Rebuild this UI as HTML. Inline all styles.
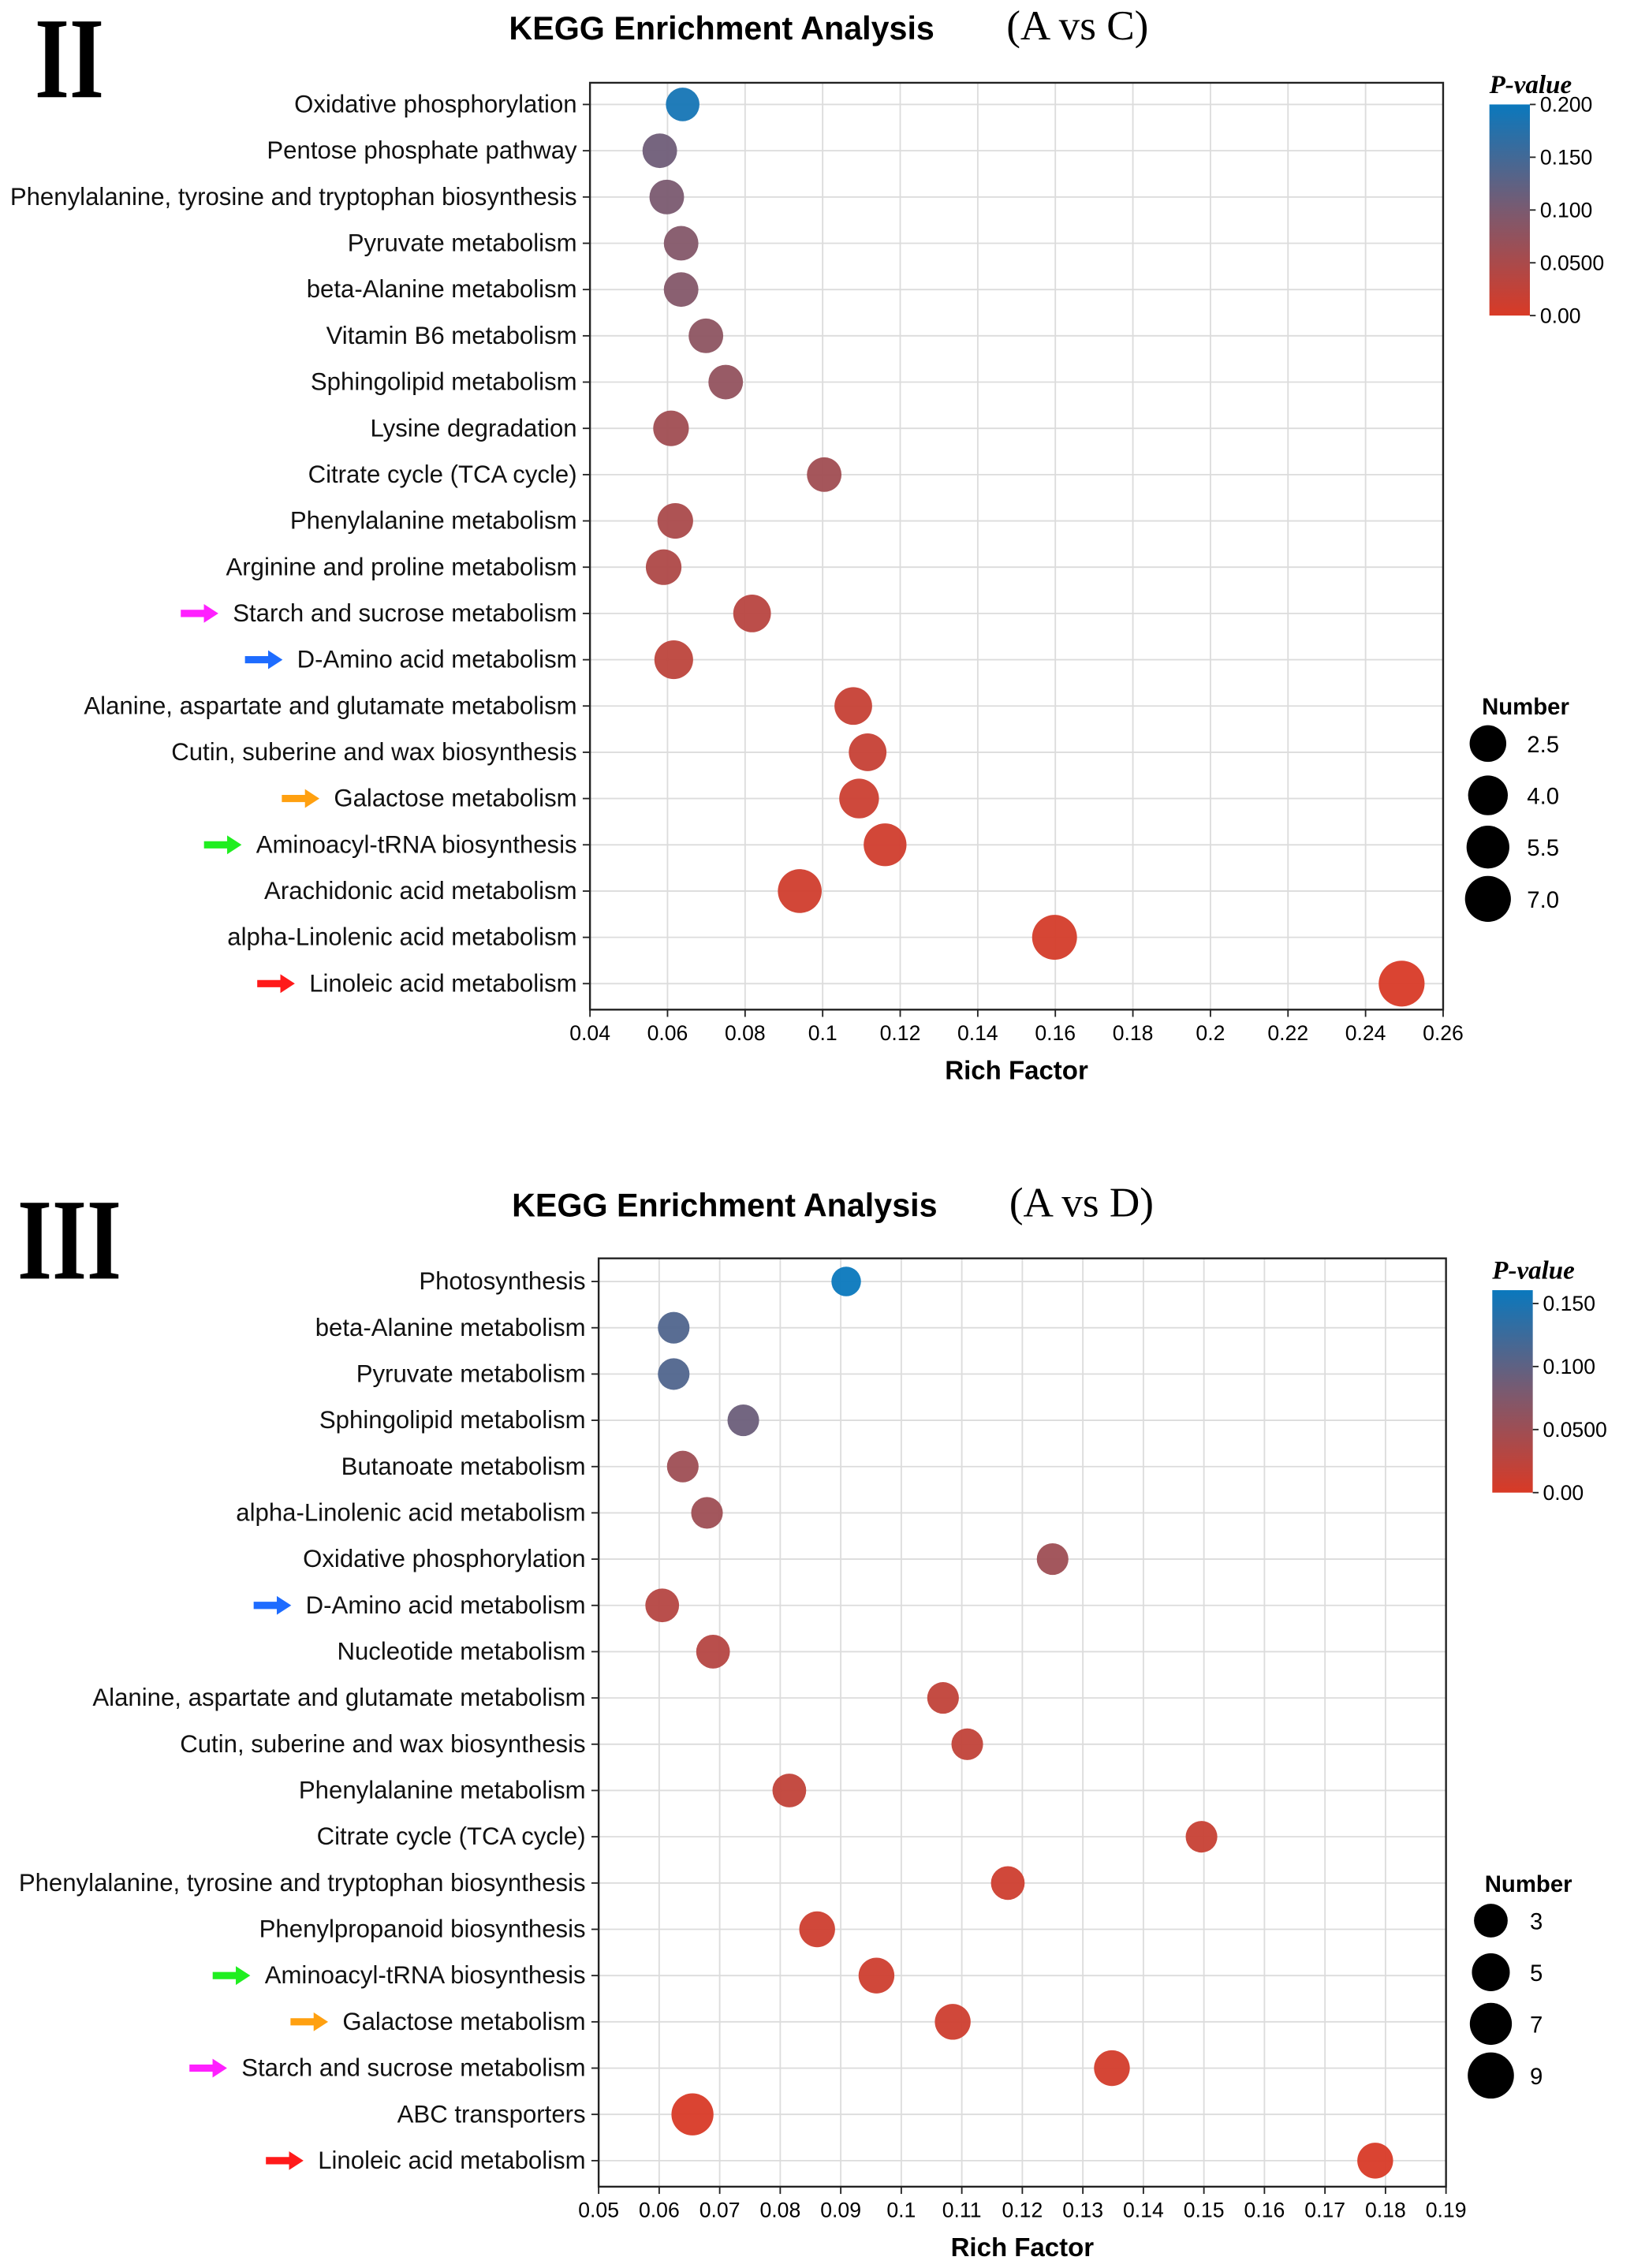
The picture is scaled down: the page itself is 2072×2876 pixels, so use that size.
<!DOCTYPE html>
<html><head><meta charset="utf-8"><style>
html,body{margin:0;padding:0;background:#fff;}
svg{display:block;}
</style></head><body>
<svg id="root" width="2072" height="2876" viewBox="0 0 1130 1568" xmlns="http://www.w3.org/2000/svg" style="font-family:'Liberation Sans',sans-serif">
<defs>
<linearGradient id="g1" x1="0" y1="1" x2="0" y2="0"><stop offset="0" stop-color="#d93a26"/><stop offset="0.5" stop-color="#7a5a70"/><stop offset="1" stop-color="#0a78bd"/></linearGradient>
</defs>
</svg>
<script>
// ---- Chart II data ----
const catsA = ["Oxidative phosphorylation","Pentose phosphate pathway","Phenylalanine, tyrosine and tryptophan biosynthesis","Pyruvate metabolism","beta-Alanine metabolism","Vitamin B6 metabolism","Sphingolipid metabolism","Lysine degradation","Citrate cycle (TCA cycle)","Phenylalanine metabolism","Arginine and proline metabolism","Starch and sucrose metabolism","D-Amino acid metabolism","Alanine, aspartate and glutamate metabolism","Cutin, suberine and wax biosynthesis","Galactose metabolism","Aminoacyl-tRNA biosynthesis","Arachidonic acid metabolism","alpha-Linolenic acid metabolism","Linoleic acid metabolism"];
const richA = [0.0639,0.058,0.0598,0.0635,0.0635,0.0699,0.075,0.0609,0.1004,0.062,0.059,0.0818,0.0616,0.1079,0.1116,0.1094,0.1161,0.0941,0.1598,0.2493];
const numA = [1,1.5,1.5,1.5,1.5,1.5,1.5,2,1.5,2,2,3,3.5,3,3,4,5.5,6,6.5,7];
const pA = [0.19,0.11,0.10,0.09,0.09,0.08,0.075,0.06,0.06,0.05,0.045,0.035,0.03,0.02,0.02,0.015,0.01,0.01,0.005,0.001];
const ticksA = [0.04,0.06,0.08,0.1,0.12,0.14,0.16,0.18,0.2,0.22,0.24,0.26];
const pTicksA = ["0.200","0.150","0.100","0.0500","0.00"];
const sizeLegA = [2.5,4.0,5.5,7.0];
// ---- Chart III data ----
const catsB = ["Photosynthesis","beta-Alanine metabolism","Pyruvate metabolism","Sphingolipid metabolism","Butanoate metabolism","alpha-Linolenic acid metabolism","Oxidative phosphorylation","D-Amino acid metabolism","Nucleotide metabolism","Alanine, aspartate and glutamate metabolism","Cutin, suberine and wax biosynthesis","Phenylalanine metabolism","Citrate cycle (TCA cycle)","Phenylalanine, tyrosine and tryptophan biosynthesis","Phenylpropanoid biosynthesis","Aminoacyl-tRNA biosynthesis","Galactose metabolism","Starch and sucrose metabolism","ABC transporters","Linoleic acid metabolism"];
const richB = [0.0909,0.0624,0.0624,0.0739,0.0639,0.0679,0.125,0.0605,0.0689,0.1069,0.1109,0.0815,0.1496,0.1176,0.0861,0.0959,0.1085,0.1348,0.0655,0.1783];
const numB = [1,2,2,2,2,2,2,3,3,2,2,3,2,3,4,4,4,4,7,4];
const pB = [0.16,0.11,0.11,0.09,0.05,0.05,0.05,0.03,0.03,0.02,0.02,0.02,0.015,0.01,0.01,0.01,0.01,0.005,0.001,0.001];
const ticksB = [0.05,0.06,0.07,0.08,0.09,0.1,0.11,0.12,0.13,0.14,0.15,0.16,0.17,0.18,0.19];
const pTicksB = ["0.150","0.100","0.0500","0.00"];
const sizeLegB = [3,5,7,9];

const NS="http://www.w3.org/2000/svg";
const root=document.getElementById('root');
const SERIF="font-family:'Liberation Serif',serif";
function mk(tag,attrs,parent,txt){const e=document.createElementNS(NS,tag);for(const k in attrs)e.setAttribute(k,attrs[k]);if(txt!==undefined)e.textContent=txt;(parent||root).appendChild(e);return e;}
function lerp(a,b,t){return a.map((v,i)=>Math.round(v+(b[i]-v)*t));}
function pcolor(p,max){const t=Math.max(0,Math.min(1,p/max));const r=[217,58,38],m=[122,90,112],b=[10,120,189];const c=t<0.5?lerp(r,m,t*2):lerp(m,b,(t-0.5)*2);return `rgb(${c[0]},${c[1]},${c[2]})`;}
const arrowCols={"Starch and sucrose metabolism":"#ff20ff","D-Amino acid metabolism":"#1e6cff","Galactose metabolism":"#ffa010","Aminoacyl-tRNA biosynthesis":"#20ee20","Linoleic acid metabolism":"#ff1a1a"};

function chart(o){
  const g=mk('g',{});
  
  
  const x0=o.px0,x1=o.px1,y0=o.py0,y1=o.py1;
  const xs=v=>x0+(v-o.ticks[0])/(o.ticks[o.ticks.length-1]-o.ticks[0])*(x1-x0);
  const ys=i=>o.rowY0+i*32;
  const n=mk('text',{x:o.numX,y:o.numY,'font-size':80,'font-weight':'bold',style:SERIF,textLength:o.numW,lengthAdjust:'spacingAndGlyphs'},g,o.numeral);
  
  const t=mk('text',{x:o.titleX,y:o.titleY,'font-size':22.5,'font-weight':'bold'},g,'KEGG Enrichment Analysis');
  
  const t2=mk('text',{x:o.titleX+344,y:o.titleY,'font-size':29,style:SERIF},g,o.sub);
  
  o.ticks.forEach(v=>{const l=mk('line',{x1:xs(v),x2:xs(v),y1:y0,y2:y1,stroke:'#dcdcdc','stroke-width':1},g);});
  o.cats.forEach((c,i)=>{const l=mk('line',{x1:x0,x2:x1,y1:ys(i),y2:ys(i),stroke:'#dcdcdc','stroke-width':1},g);});
  const fr=mk('rect',{x:x0,y:y0,width:x1-x0,height:y1-y0,fill:'none',stroke:'#222','stroke-width':1.3},g);
  
  o.ticks.forEach(v=>{mk('line',{x1:xs(v),x2:xs(v),y1:y1,y2:y1+5,stroke:'#222'},g);
    const tl=mk('text',{x:xs(v),y:y1+21,'font-size':14.5,'text-anchor':'middle'},g,String(v));
    });
  const xt=mk('text',{x:(x0+x1)/2,y:y1+48,'font-size':18,'font-weight':'bold','text-anchor':'middle'},g,'Rich Factor');
  
  o.cats.forEach((c,i)=>{
    mk('line',{x1:x0-5,x2:x0,y1:ys(i),y2:ys(i),stroke:'#222'},g);
    const tl=mk('text',{x:x0-9,y:ys(i)+5.5,'font-size':17,'text-anchor':'end',fill:'#111'},g,c);
    
    if(arrowCols[c]){const w=tl.getComputedTextLength?tl.getComputedTextLength():c.length*8.5;const ax=x0-9-w-10;
      const a=mk('path',{d:`M${ax-26} ${ys(i)-2.5} h16 v-4 l10 6.5 l-10 6.5 v-4 h-16 z`,fill:arrowCols[c]},g);
      }
  });
  o.cats.forEach((c,i)=>{
    const r=o.rad(o.num[i]);
    const p=mk('circle',{cx:xs(o.rich[i]),cy:ys(i),r:r,fill:pcolor(o.p[i],o.pmax),'fill-opacity':0.95},g);
    
  });
  const lt=mk('text',{x:o.lgX,y:o.lgY-6,'font-size':18,'font-weight':'bold','font-style':'italic',style:SERIF},g,'P-value');
  
  const cb=mk('rect',{x:o.lgX,y:o.lgY+2,width:28,height:o.lgH,fill:'url(#g1)'},g);
  
  o.pt.forEach((s,k)=>{const y=o.lgY+2+o.lgH-(o.pt.length-1-k)*o.lgStep;
    mk('line',{x1:o.lgX+28,x2:o.lgX+32,y1:y,y2:y,stroke:'#222'},g);
    const tl=mk('text',{x:o.lgX+35,y:y+5,'font-size':14.5},g,s);
    });
  const st=mk('text',{x:o.slX+26,y:o.slY,'font-size':16,'font-weight':'bold','text-anchor':'middle'},g,'Number');
  
  o.sl.forEach((s,k)=>{const y=o.slY+o.slOff+k*o.slStep;
    const c=mk('circle',{cx:o.slX,cy:y,r:o.rad(s),fill:'#000'},g);
    
    const tl=mk('text',{x:o.slX+27,y:y+6,'font-size':16},g,s.toFixed(o.slDec));
    });
}
chart({name:'chart-a-vs-c',numeral:'II',numX:24,numY:67,numW:48,titleX:352,titleY:27,sub:'(A vs C)',
  px0:408,px1:998,py0:57,py1:698,rowY0:72,cats:catsA,rich:richA,num:numA,p:pA,pmax:0.2,ticks:ticksA,
  rad:n=>10.9+0.71*n,lgX:1030,lgY:70,lgH:146,lgStep:36.5,pt:pTicksA,slX:1029,slY:494,slOff:20,slStep:35.8,sl:sizeLegA,slDec:1});
chart({name:'chart-a-vs-d',numeral:'III',numX:12,numY:884,numW:72,titleX:354,titleY:841,sub:'(A vs D)',
  px0:414,px1:1000,py0:870,py1:1512,rowY0:886,cats:catsB,rich:richB,num:numB,p:pB,pmax:0.16,ticks:ticksB,
  rad:n=>9.5+0.72*n,lgX:1032,lgY:890,lgH:140,lgStep:43.6,pt:pTicksB,slX:1031,slY:1308,slOff:20,slStep:35.7,sl:sizeLegB,slDec:0});
</script>
</body></html>
